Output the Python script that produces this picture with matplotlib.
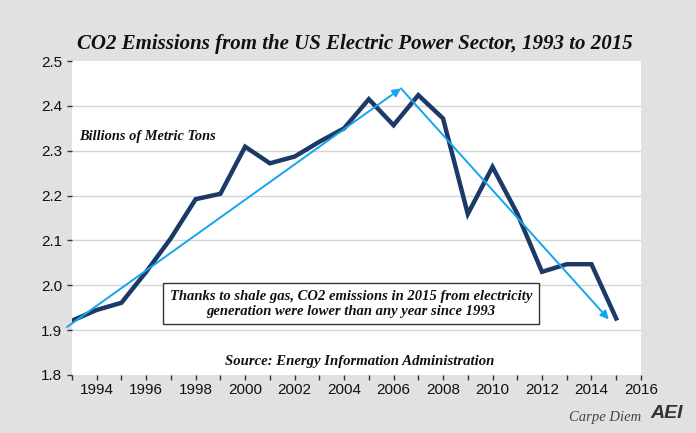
import numpy as np
import matplotlib
matplotlib.use("Agg")
import matplotlib.pyplot as plt

# CO2 emissions, billions of metric tons
years = list(range(1993, 2016))
emissions = [1.921, 1.945, 1.961, 2.030, 2.105, 2.192, 2.204, 2.309, 2.272, 2.287,
             2.320, 2.350, 2.415, 2.357, 2.424, 2.372, 2.159, 2.264, 2.160, 2.030,
             2.047, 2.047, 1.926]

# trend arrows drawn on the chart (start, peak, end)
trend_x = [1992.8, 2006.3, 2014.7]
trend_y = [1.907, 2.439, 1.924]

navy = "#1b3a68"
sky = "#14a5ec"
bg = "#e1e1e1"
serif = "Liberation Serif"

fig = plt.figure(figsize=(6.96, 4.33), dpi=100, facecolor=bg)
ax = fig.add_axes([0.1034, 0.134, 0.8175, 0.725])
ax.set_facecolor("white")

ax.plot(years, emissions, color=navy, lw=3.2, solid_joinstyle="miter", zorder=3)

ax.annotate("", xy=(trend_x[1], trend_y[1]), xytext=(trend_x[0], trend_y[0]),
            arrowprops=dict(arrowstyle="-|>", color=sky, lw=1.4, mutation_scale=12,
                            shrinkA=0, shrinkB=0), zorder=4, annotation_clip=False)
ax.annotate("", xy=(trend_x[2], trend_y[2]), xytext=(trend_x[1], trend_y[1]),
            arrowprops=dict(arrowstyle="-|>", color=sky, lw=1.4, mutation_scale=12,
                            shrinkA=0, shrinkB=0), zorder=4)

ax.set_xlim(1993, 2016)
ax.set_ylim(1.8, 2.5)
ax.set_xticks(range(1993, 2017))
ax.set_xticklabels([str(y) if y % 2 == 0 else "" for y in range(1993, 2017)])
ax.set_yticks(np.arange(1.8, 2.51, 0.1))
ax.set_yticklabels(["%.1f" % v for v in np.arange(1.8, 2.51, 0.1)])
for v in np.arange(1.9, 2.45, 0.1):
    ax.axhline(v, color="#d4d4d4", lw=1, zorder=1)
for s in ax.spines.values():
    s.set_visible(False)
ax.tick_params(axis="both", labelsize=11, length=3.6, color="#333333",
               labelcolor="#111111", direction="out", width=1, pad=3.4)
ax.tick_params(axis="x", pad=2.5)
for lab in ax.get_xticklabels() + ax.get_yticklabels():
    lab.set_family("Liberation Sans")

fig.text(0.51, 0.898, "CO2 Emissions from the US Electric Power Sector, 1993 to 2015",
         ha="center", va="center", family=serif, fontsize=15.0, weight="bold",
         style="italic", color="#111111")

ax.text(1993.3, 2.331, "Billions of Metric Tons", family=serif, fontsize=10.4,
        weight="bold", style="italic", color="#111111", va="center")

ax.text(2004.28, 1.959,
        "Thanks to shale gas, CO2 emissions in 2015 from electricity\n"
        "generation were lower than any year since 1993",
        ha="center", va="center", family=serif, fontsize=10.5, weight="bold",
        style="italic", color="#111111", linespacing=1.2, zorder=5,
        bbox=dict(boxstyle="square,pad=0.45", fc="white", ec="#333333", lw=1))

ax.text(2004.65, 1.829, "Source: Energy Information Administration", ha="center",
        va="center", family=serif, fontsize=10.6, weight="bold", style="italic",
        color="#111111")

fig.text(0.922, 0.035, "Carpe Diem", ha="right", va="center", family=serif,
         fontsize=10.5, style="italic", color="#444444")
fig.text(0.935, 0.045, "AEI", ha="left", va="center", family="Liberation Sans",
         fontsize=14, weight="bold", style="italic", color="#333333")

fig.savefig("out.png", dpi=100, facecolor=bg)
